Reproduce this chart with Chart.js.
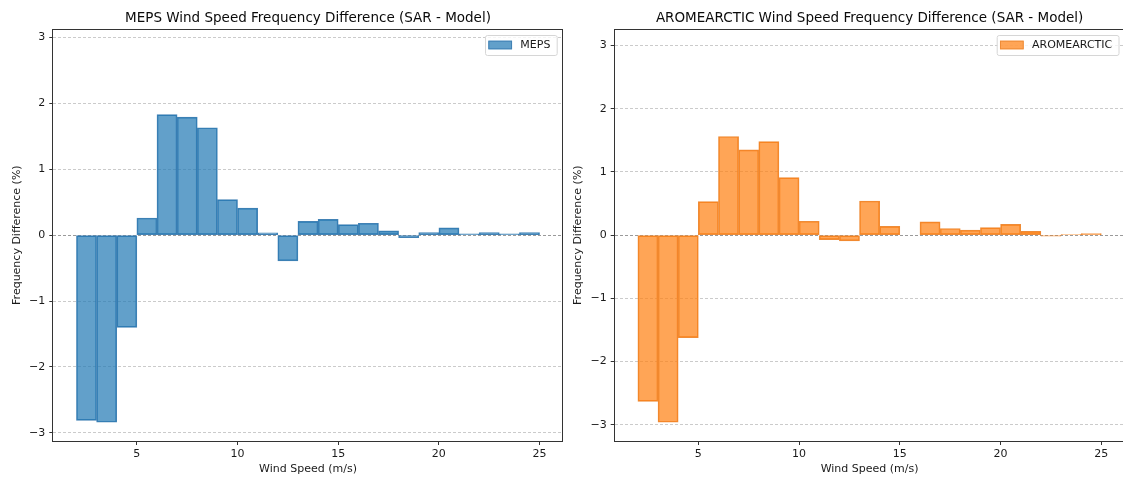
<!DOCTYPE html>
<html lang="en">
<head>
  <meta charset="UTF-8">
  <title>Wind Speed Frequency Difference</title>
  <script src="https://cdn.jsdelivr.net/npm/chart.js"></script>
  <style>
    html, body {
      margin: 0;
      padding: 0;
      background: #ffffff;
      overflow: hidden;
    }
    body {
      width: 1123px;
      height: 478px;
      position: relative;
    }
    canvas {
      position: absolute;
      top: 0;
    }
    #chartMeps { left: 0; }
    #chartArome { left: 561px; }
  </style>
</head>
<body>
  <canvas id="chartMeps" width="570" height="478"></canvas>
  <canvas id="chartArome" width="566" height="478"></canvas>

  <script>
  // wind speed bins (m/s), each 1 m/s wide, labelled by lower edge
  const binStarts = [2, 3, 4, 5, 6, 7, 8, 9, 10, 11, 12, 13, 14, 15, 16, 17, 18, 19, 20, 21, 22, 23, 24];
  const binWidth = 1;

  // frequency difference SAR - model (%)
  const mepsDiff = [-2.81, -2.84, -1.40, 0.26, 1.83, 1.79, 1.63, 0.54, 0.41, 0.035, -0.39, 0.21,
                    0.24, 0.16, 0.18, 0.066, -0.04, 0.04, 0.11, 0.02, 0.04, 0.02, 0.04];
  const aromeDiff = [-2.63, -2.96, -1.62, 0.53, 1.56, 1.35, 1.48, 0.91, 0.22, -0.07, -0.09, 0.54,
                     0.14, 0, 0.21, 0.105, 0.08, 0.12, 0.17, 0.06, -0.015, 0.01, 0.025];

  const xTicks = [5, 10, 15, 20, 25];
  const yTicks = [-3, -2, -1, 0, 1, 2, 3];

  const FONT = "'DejaVu Sans', sans-serif";

  // box around the plot area (all four spines)
  const framePlugin = {
    id: 'frame',
    afterDatasetsDraw(chart) {
      const a = chart.chartArea;
      const ctx = chart.ctx;
      ctx.save();
      ctx.strokeStyle = '#333333';
      ctx.lineWidth = 1;
      ctx.strokeRect(Math.round(a.left) - 0.5, Math.round(a.top) + 0.5,
                     Math.round(a.right - a.left) + 1, Math.round(a.bottom - a.top));
      ctx.restore();
    }
  };

  // matplotlib style legend box in the upper right corner
  const boxLegendPlugin = {
    id: 'boxLegend',
    afterDraw(chart) {
      const a = chart.chartArea;
      const ctx = chart.ctx;
      const ds = chart.data.datasets[0];
      ctx.save();
      ctx.font = '11px ' + FONT;
      const textW = ctx.measureText(ds.label).width;
      const w = 3.3 + 23.7 + 8.3 + textW + 6.3;
      const h = 20;
      const x = a.right - 6 - w;
      const y = a.top + 5.7;

      ctx.beginPath();
      ctx.roundRect(x + 0.5, y + 0.5, w, h, 2);
      ctx.fillStyle = 'rgba(255,255,255,0.8)';
      ctx.fill();
      ctx.strokeStyle = '#d6d6d6';
      ctx.lineWidth = 1;
      ctx.stroke();

      ctx.fillStyle = ds.backgroundColor;
      ctx.fillRect(x + 3.3, y + 5.7, 23.7, 8.6);
      ctx.strokeStyle = ds.borderColor;
      ctx.lineWidth = 1;
      ctx.strokeRect(x + 3.8, y + 6.2, 22.7, 7.6);

      ctx.fillStyle = '#1a1a1a';
      ctx.textBaseline = 'middle';
      ctx.fillText(ds.label, x + 35.3, y + h / 2 + 0.5);
      ctx.restore();
    }
  };

  function buatChart(canvasId, title, label, values, fill, edge, yAxisWidth, padRight) {
    const yLimit = 1.1 * Math.max(...values.map(v => Math.abs(v)));
    const span = binStarts[binStarts.length - 1] + binWidth - binStarts[0];
    const xMin = binStarts[0] - 0.05 * span;
    const xMax = binStarts[binStarts.length - 1] + binWidth + 0.05 * span;

    const points = binStarts.map((s, i) => ({ x: s + binWidth / 2, y: values[i] }));

    return new Chart(document.getElementById(canvasId), {
      type: 'bar',
      data: {
        datasets: [{
          label: label,
          data: points,
          backgroundColor: fill,
          borderColor: edge,
          borderWidth: 1,
          borderSkipped: false,
          barPercentage: 1,
          categoryPercentage: 1
        }]
      },
      options: {
        responsive: false,
        animation: false,
        devicePixelRatio: 1,
        layout: { padding: { left: 0, right: padRight, top: 0, bottom: 0 } },
        plugins: {
          legend: { display: false },
          tooltip: { enabled: false },
          title: {
            display: true,
            text: title,
            fullSize: false,
            color: '#0a0a0a',
            font: { family: FONT, size: 13.5, weight: 'normal' },
            padding: { top: 9.9, bottom: 3.2 }
          }
        },
        scales: {
          x: {
            type: 'linear',
            min: xMin,
            max: xMax,
            offset: false,
            afterBuildTicks: scale => { scale.ticks = xTicks.map(v => ({ value: v })); },
            afterFit: scale => { scale.height = 37; },
            grid: {
              offset: false,
              drawOnChartArea: false,
              drawTicks: true,
              tickLength: 4,
              tickColor: '#333333',
              tickWidth: 1
            },
            border: { display: false },
            ticks: {
              padding: 3,
              maxRotation: 0,
              color: '#1a1a1a',
              font: { family: FONT, size: 11 }
            },
            title: {
              display: true,
              text: 'Wind Speed (m/s)',
              color: '#1a1a1a',
              font: { family: FONT, size: 11 },
              padding: { top: 0, bottom: 2 }
            }
          },
          y: {
            type: 'linear',
            min: -yLimit,
            max: yLimit,
            afterBuildTicks: scale => { scale.ticks = yTicks.map(v => ({ value: v })); },
            afterFit: scale => { scale.width = yAxisWidth; },
            grid: {
              color: ctx => (ctx.tick && ctx.tick.value === 0) ? '#9a9a9a' : '#cbcbcb',
              lineWidth: 1,
              drawTicks: true,
              tickLength: 4,
              tickColor: '#333333',
              tickWidth: 1,
              tickBorderDash: []
            },
            border: { display: false, dash: [3, 2] },
            ticks: {
              padding: 4,
              color: '#1a1a1a',
              font: { family: FONT, size: 11 },
              callback: v => String(v).replace('-', '\u2212')
            },
            title: {
              display: true,
              text: 'Frequency Difference (%)',
              color: '#1a1a1a',
              font: { family: FONT, size: 11 },
              padding: { top: 10.4, bottom: 0 }
            }
          }
        }
      },
      plugins: [framePlugin, boxLegendPlugin]
    });
  }

  buatChart('chartMeps', 'MEPS Wind Speed Frequency Difference (SAR - Model)', 'MEPS',
            mepsDiff, 'rgba(31,119,180,0.7)', '#4282b5', 53.3, 7.3);
  buatChart('chartArome', 'AROMEARCTIC Wind Speed Frequency Difference (SAR - Model)', 'AROMEARCTIC',
            aromeDiff, 'rgba(255,127,14,0.7)', '#ee8c38', 53.7, 2.5);
  </script>
</body>
</html>
